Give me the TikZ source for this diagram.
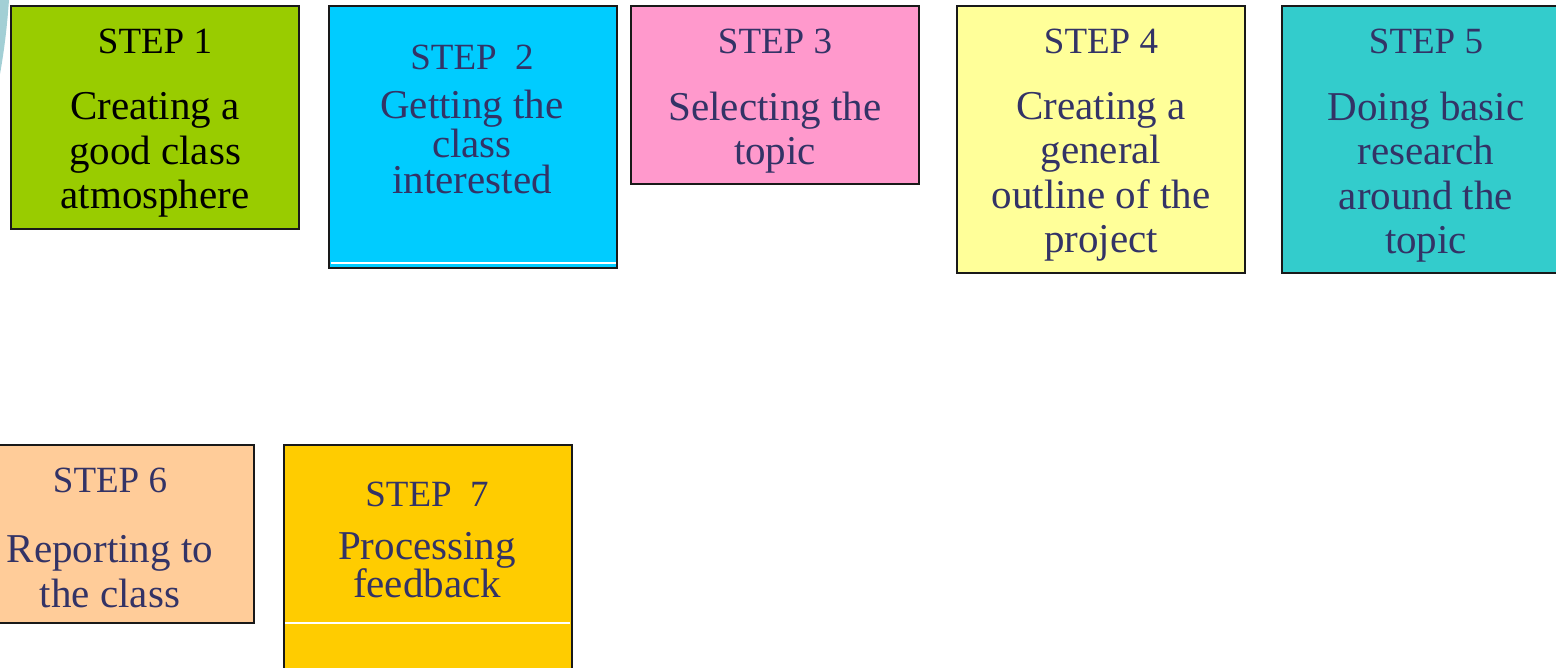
\documentclass[tikz,border=0pt]{standalone}
\usepackage{fontspec}
\setmainfont{Liberation Serif}
\usetikzlibrary{calc}
\definecolor{navy}{HTML}{333366}
\definecolor{cGreen}{HTML}{99CC00}
\definecolor{cCyan}{HTML}{00CCFF}
\definecolor{cPink}{HTML}{FF99CC}
\definecolor{cYellow}{HTML}{FFFF99}
\definecolor{cTeal}{HTML}{33CCCC}
\definecolor{cPeach}{HTML}{FFCC99}
\definecolor{cGold}{HTML}{FFCC00}
\definecolor{cArc}{HTML}{A2CFD5}
\tikzset{
  stepbox/.style={draw=black!90, line width=2pt, inner sep=0pt, outer sep=0pt, minimum width=288pt},
  steplabel/.style={font=\fontsize{37}{40}\selectfont, text=navy, inner sep=0pt},
  steptext/.style={font=\fontsize{41}{44.5}\selectfont, text=navy, align=center, inner sep=0pt},
  steptight/.style={font=\fontsize{41}{36}\selectfont, text=navy, align=center, inner sep=0pt},
  whiteline/.style={draw=white, line width=1.2pt}
}
\begin{document}
\begin{tikzpicture}[x=1pt,y=-1pt]
\useasboundingbox (0,0) rectangle (1556,667);
\clip (0,0) rectangle (1556,667);
% decorative arc at top left
\fill[cArc] (0,0) -- (9,0) .. controls (7,28) and (4,52) .. (0,74) -- cycle;
% boxes
\node[stepbox, fill=cGreen, minimum height=223pt] (b1) at (155,117.5) {};
\node[stepbox, fill=cCyan, minimum height=262pt] (b2) at (473,137) {};
\node[stepbox, fill=cPink, minimum height=178pt] (b3) at (775,95) {};
\node[stepbox, fill=cYellow, minimum height=267pt] (b4) at (1101,139.5) {};
\node[stepbox, fill=cTeal, minimum height=267pt] (b5) at (1426,139.5) {};
\node[stepbox, fill=cPeach, minimum height=178pt] (b6) at (110,534) {};
\node[stepbox, fill=cGold, minimum height=262pt] (b7) at (427.5,576) {};
% white lines
\coordinate (w2a) at ($(b2.south west)+(1.5,-5)$);
\coordinate (w2b) at ($(b2.south east)+(-1.5,-5)$);
\coordinate (w7a) at (285,623);
\coordinate (w7b) at (570,623);
\draw[whiteline] (w2a) -- (w2b);
\draw[whiteline] (w7a) -- (w7b);
% texts
\node[steplabel, text=black] (l1) at (155,41) {STEP 1};
\node[steptext, text=black] (t1) at (155,155) {Creating a\\good class\\atmosphere};
\node[steplabel] (l2) at (472,57) {STEP\ \ 2};
\node[steptight] (t2) at (472,142) {Getting the\\class\\interested};
\node[steplabel] (l3) at (775,41) {STEP 3};
\node[steptext] (t3) at (775,132.5) {Selecting the\\topic};
\node[steplabel] (l4) at (1101,41) {STEP 4};
\node[steptext] (t4) at (1101,177) {Creating a\\general\\outline of the\\project};
\node[steplabel] (l5) at (1426,41) {STEP 5};
\node[steptext] (t5) at (1426,177) {Doing basic\\research\\around the\\topic};
\node[steplabel] (l6) at (110,480) {STEP 6};
\node[steptext] (t6) at (110,571.5) {Reporting to\\the class};
\node[steplabel] (l7) at (427,494) {STEP\ \ 7};
\node[steptight] (t7) at (427,565) {Processing\\feedback};
\end{tikzpicture}
\end{document}
